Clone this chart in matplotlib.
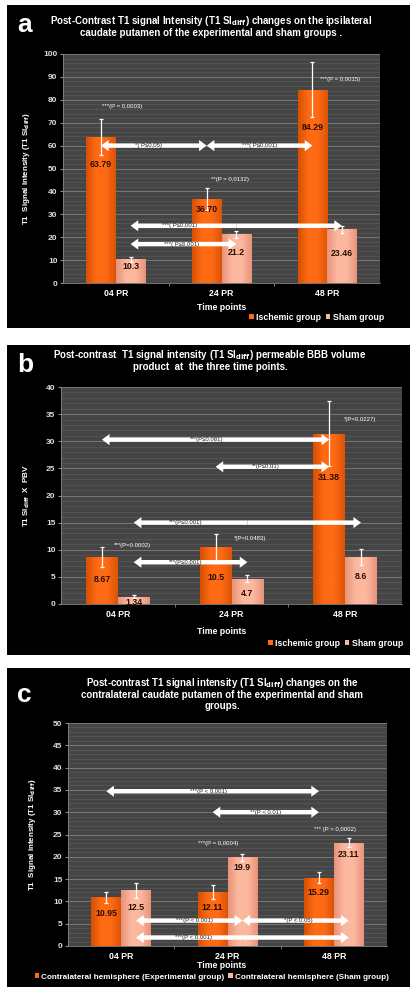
import matplotlib
matplotlib.use('Agg')
import matplotlib.pyplot as plt
import numpy as np
from matplotlib.patches import Rectangle, FancyArrowPatch, Patch
from matplotlib.colors import LinearSegmentedColormap

plt.rcParams['font.family'] = ['Liberation Sans', 'DejaVu Sans']

W, H = 415, 993
groups = ['04 PR', '24 PR', '48 PR']

# panel a: ipsilateral caudate putamen
a_isch = [63.79, 36.70, 84.29]
a_isch_err = [8.0, 4.7, 12.0]
a_sham = [10.3, 21.2, 23.46]
a_sham_err = [1.0, 1.5, 1.5]
a_labels = ['63.79', '36.70', '84.29', '10.3', '21.2', '23.46']
a_pvals = ['***(P = 0,0003)', '**(P = 0,0132)', '***(P = 0,0015)']
# (series, from group, to group, level, text)
a_comp = [(0, 0, 1, 60, '*( P≤0,05)'),
          (0, 1, 2, 60, '***( P≤0,001)'),
          (1, 0, 2, 25, '***( P≤0,001)'),
          (1, 0, 1, 17, '***( P≤0,001)')]

# panel b: SI x PBV
b_isch = [8.67, 10.5, 31.38]
b_isch_err = [1.8, 2.4, 6.0]
b_sham = [1.34, 4.7, 8.6]
b_sham_err = [0.3, 0.6, 1.5]
b_labels = ['8.67', '10.5', '31.38', '1.34', '4.7', '8.6']
b_pvals = ['***(P=0.0002)', '*(P=0.0483)', '*(P=0.0227)']
b_comp = [(0, 0, 2, 30.3, '***(P≤0.001)'),
          (0, 1, 2, 25.3, '**(P≤0.01)'),
          (1, 0, 2, 15, '***(P≤0.001)'),
          (1, 0, 1, 7.7, '***(P≤0.001)')]

# panel c: contralateral caudate putamen
c_exp = [10.95, 12.11, 15.29]
c_exp_err = [1.2, 1.6, 1.2]
c_sham = [12.5, 19.9, 23.11]
c_sham_err = [1.7, 0.8, 1.0]
c_labels = ['10.95', '12.11', '15.29', '12.5', '19.9', '23.11']
c_pvals = [None, '***(P = 0,0004)', '*** (P = 0,0002)']
c_comp = [(0, 0, 2, 34.7, '***(P < 0.001)'),
          (0, 1, 2, 30, '**(P < 0.01)'),
          (1, 0, 1, 5.7, '***(P < 0.001)'),
          (1, 1, 2, 5.7, '*(P < 0.05)'),
          (1, 0, 2, 1.9, '***(P < 0.001)')]

ORANGE = LinearSegmentedColormap.from_list('o', ['#d65000', '#ff6a14', '#ff6a14', '#dc5406'])
SALMON = LinearSegmentedColormap.from_list('s', ['#e8937a', '#fbb89e', '#fbb89e', '#e8937a'])


def rect(x0, y0, x1, y1):
    return [x0 / W, 1 - y1 / H, (x1 - x0) / W, (y1 - y0) / H]


def gradient_bars(ax, bars, cmap):
    grad = np.linspace(0, 1, 64).reshape(1, -1)
    for b in bars:
        x, w, h = b.get_x(), b.get_width(), b.get_height()
        im = ax.imshow(grad, extent=[x, x + w, 0, h], aspect='auto', cmap=cmap,
                       zorder=2, interpolation='bilinear')
        im.set_clip_path(b)


def double_arrow(ax, x0, x1, y):
    mid = (x0 + x1) / 2
    for end in (x0, x1):
        ax.add_patch(FancyArrowPatch((mid, y), (end, y), mutation_scale=1,
                                     arrowstyle='simple,head_length=5.5,head_width=8,tail_width=3.2',
                                     color='white', lw=0, zorder=5, shrinkA=0, shrinkB=0))


def panel(box, axbox, letter, letter_y, title, title_y, title_x, ylabel, ylabel_x,
          s1, e1, s2, e2, labels, label_off, pvals, pv_pos, comps, text_frac,
          ymax, ystep, yminor, leg_names, leg_pos, xl_y, leg_size=6.3):
    fig.patches.append(Rectangle((box[0] / W, 1 - box[3] / H), (box[2] - box[0]) / W,
                                 (box[3] - box[1]) / H, transform=fig.transFigure,
                                 facecolor='black', edgecolor='none', zorder=-5))
    fig.text(17 / W, 1 - letter_y / H, letter, color='white', fontsize=19,
             fontweight='bold', va='center', ha='left')
    fig.text(title_x / W, 1 - title_y / H, title, color='white', fontsize=7.0,
             fontweight='bold', ha='center', va='top', linespacing=1.05)

    ax = fig.add_axes(rect(*axbox))
    ax.set_facecolor('#454545')
    x = np.arange(3)
    w = 0.28
    xs = [x - w / 2, x + w / 2]
    b1 = ax.bar(xs[0], s1, w, color='#ff6a12', zorder=2)
    b2 = ax.bar(xs[1], s2, w, color='#fbb89e', zorder=2)
    gradient_bars(ax, b1, ORANGE)
    gradient_bars(ax, b2, SALMON)
    ax.errorbar(xs[0], s1, yerr=e1, fmt='none', ecolor='white', elinewidth=0.9,
                capsize=1.5, capthick=0.9, zorder=4)
    ax.errorbar(xs[1], s2, yerr=e2, fmt='none', ecolor='white', elinewidth=0.9,
                capsize=1.5, capthick=0.9, zorder=4)

    vals = list(s1) + list(s2)
    pos = list(xs[0]) + list(xs[1])
    for xi, v, lab, off in zip(pos, vals, labels, label_off):
        ax.text(xi, v - off, lab, ha='center', va='center', fontsize=6.3,
                fontweight='bold', color='#2a0c00', zorder=6)

    for pv, (px, py) in zip(pvals, pv_pos):
        if pv:
            ax.text(px, py, pv, ha='center', va='center', fontsize=4.3,
                    color='white', zorder=6)

    for (ser, g0, g1, lvl, txt), fr in zip(comps, text_frac):
        x0, x1 = xs[ser][g0], xs[ser][g1]
        double_arrow(ax, x0, x1, lvl)
        ax.text(x0 + (x1 - x0) * fr, lvl, txt, ha='center', va='center',
                fontsize=4.3, color='#222222', zorder=7)

    ax.set_xlim(-0.5, 2.5)
    ax.set_ylim(0, ymax)
    ax.set_yticks(np.arange(0, ymax + 0.1, ystep))
    ax.set_yticks(np.arange(0, ymax + 0.1, yminor), minor=True)
    ax.grid(True, which='major', axis='y', color='#8a8a8a', lw=0.5, zorder=1)
    ax.grid(True, which='minor', axis='y', color='#5e5e5e', lw=0.4, zorder=1)
    ax.set_axisbelow(True)
    ax.set_xticks(x)
    ax.set_xticklabels(groups, color='white', fontsize=6.3, fontweight='bold')
    ax.set_xticks([0.5, 1.5], minor=True)
    ax.tick_params(axis='x', which='both', length=2.5, color='#888888', pad=4)
    ax.tick_params(axis='x', which='major', length=0)
    ax.tick_params(axis='y', which='major', colors='#888888', labelcolor='#dddddd',
                   labelsize=6, length=2, pad=2)
    ax.tick_params(axis='y', which='minor', length=0)
    for t in ax.get_yticklabels():
        t.set_fontweight('bold')
    for s in ['top', 'right']:
        ax.spines[s].set_visible(False)
    for s in ['left', 'bottom']:
        ax.spines[s].set_color('#888888')
        ax.spines[s].set_linewidth(0.6)

    fig.text(ylabel_x / W, 1 - (axbox[1] + axbox[3]) / 2 / H, ylabel, rotation=90,
             color='white', fontsize=5.8, fontweight='bold', ha='center', va='center')
    fig.text(222 / W, 1 - xl_y / H, 'Time points', color='white', fontsize=6.3,
             fontweight='bold', ha='center', va='center')

    handles = [Patch(facecolor='#ff6a12'), Patch(facecolor='#fbb89e')]
    fig.legend(handles, leg_names, loc='center right',
               bbox_to_anchor=(leg_pos[0] / W, 1 - leg_pos[1] / H), frameon=False,
               ncol=2, handlelength=0.5, handleheight=0.5, handletextpad=0.3,
               columnspacing=0.5, borderaxespad=0, borderpad=0,
               prop={'size': leg_size, 'weight': 'bold'}, labelcolor='white')
    return ax


fig = plt.figure(figsize=(W / 100, H / 100), dpi=100)
fig.patch.set_facecolor('white')

panel(box=(7, 5, 410, 328), axbox=(63, 54, 380, 283), letter='a', letter_y=25,
      title='Post-Contrast T1 signal Intensity (T1 SI$_{\\mathbf{diff}}$) changes on the ipsilateral\n'
            'caudate putamen of the experimental and sham groups .',
      title_y=14, title_x=211, ylabel='T1  Signal Intensity (T1 SI$_{\\mathbf{diff}}$)', ylabel_x=27,
      s1=a_isch, e1=a_isch_err, s2=a_sham, e2=a_sham_err, labels=a_labels,
      label_off=[12, 4.7, 16.6, 3.3, 8, 10.5], pvals=a_pvals,
      pv_pos=[(0.06, 77), (1.08, 45.4), (2.12, 89)], comps=a_comp,
      text_frac=[0.45, 0.5, 0.23, 0.48], ymax=100, ystep=10, yminor=2,
      leg_names=['Ischemic group', 'Sham group'], leg_pos=(384, 317), xl_y=307)

panel(box=(7, 345, 410, 655), axbox=(61, 387, 402, 604), letter='b', letter_y=365,
      title='Post-contrast  T1 signal intensity (T1 SI$_{\\mathbf{diff}}$) permeable BBB volume\n'
            'product  at  the three time points.',
      title_y=348, title_x=210, ylabel='T1 SI$_{\\mathbf{diff}}$  X  PBV', ylabel_x=27,
      s1=b_isch, e1=b_isch_err, s2=b_sham, e2=b_sham_err, labels=b_labels,
      label_off=[4.2, 5.7, 8.0, 1.1, 2.7, 3.5], pvals=b_pvals,
      pv_pos=[(0.13, 10.7), (1.16, 12.1), (2.13, 34)], comps=b_comp,
      text_frac=[0.46, 0.44, 0.23, 0.46], ymax=40, ystep=5, yminor=1,
      leg_names=['Ischemic group', 'Sham group'], leg_pos=(403, 643), xl_y=631)

panel(box=(7, 668, 410, 987), axbox=(68, 723, 387, 946), letter='c', letter_y=695,
      title='Post-contrast T1 signal intensity (T1 SI$_{\\mathbf{diff}}$) changes on the\n'
            'contralateral caudate putamen of the experimental and sham\ngroups.',
      title_y=676, title_x=222, ylabel='T1  Signal intensity (T1 SI$_{\\mathbf{diff}}$)', ylabel_x=33,
      s1=c_exp, e1=c_exp_err, s2=c_sham, e2=c_sham_err, labels=c_labels,
      label_off=[3.7, 3.4, 3.2, 3.8, 2.4, 2.7], pvals=c_pvals,
      pv_pos=[(0, 0), (0.91, 22.9), (2.01, 26.1)], comps=c_comp,
      text_frac=[0.48, 0.5, 0.55, 0.53, 0.27], ymax=50, ystep=5, yminor=1,
      leg_names=['Contralateral hemisphere (Experimental group)',
                 'Contralateral hemisphere (Sham group)'], leg_pos=(389, 977), xl_y=966,
      leg_size=5.9)

fig.savefig('out.png', dpi=100, facecolor='white')
